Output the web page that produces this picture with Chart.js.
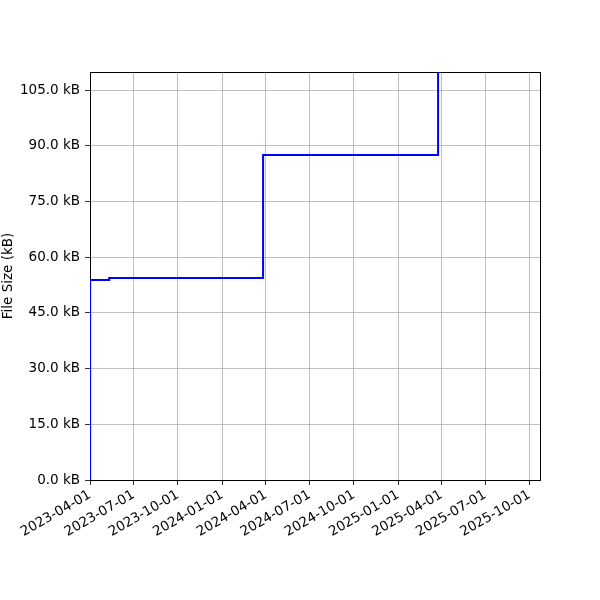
<!DOCTYPE html>
<html>
<head>
<meta charset="utf-8">
<script src="https://cdn.jsdelivr.net/npm/chart.js@4.4.1/dist/chart.umd.min.js"></script>
<style>
  body { margin: 0; background: #fff; }
  #wrap { width: 600px; height: 600px; }
</style>
</head>
<body>
<div id="wrap"><canvas id="size-chart" width="600" height="600"></canvas></div>
<script>
// file size history (step changes), values in kB
const commitDates = ['2023-04-01T00:00', '2023-04-01T06:00', '2023-05-11', '2024-03-26', '2025-03-25', '2025-10-23'];
const fileSizes   = [0, 53.85, 54.4, 87.5, 130, 130];

const tickDates = [
    '2023-04-01', '2023-07-01', '2023-10-01', '2024-01-01', '2024-04-01', '2024-07-01',
    '2024-10-01', '2025-01-01', '2025-04-01', '2025-07-01', '2025-10-01'
];
const sizeTicks = [0, 15, 30, 45, 60, 75, 90, 105];

const toMs = d => Date.parse(d.length > 10 ? d + 'Z' : d + 'T00:00Z');

const points = commitDates.map((d, i) => ({ x: toMs(d), y: fileSizes[i] }));

const font = { family: 'DejaVu Sans', size: 13.5 };

// matplotlib-like box around the axes, under the line
const boxPlugin = {
    id: 'box',
    beforeDatasetsDraw(chart) {
        const a = chart.chartArea;
        const ctx = chart.ctx;
        ctx.save();
        ctx.strokeStyle = '#000';
        ctx.lineWidth = 1;
        ctx.strokeRect(Math.round(a.left) + 0.5, Math.round(a.top) + 0.5,
                       Math.round(a.right - a.left), Math.round(a.bottom - a.top));
        ctx.restore();
    }
};

new Chart(document.getElementById('size-chart'), {
    type: 'line',
    data: {
        datasets: [{
            data: points,
            borderColor: '#0000ff',
            borderWidth: 2,
            pointRadius: 0,
            stepped: 'before',
            fill: false
        }]
    },
    options: {
        responsive: false,
        animation: false,
        layout: { padding: { top: 72, right: 60, left: 0, bottom: 0 } },
        plugins: { legend: { display: false }, tooltip: { enabled: false } },
        scales: {
            x: {
                type: 'linear',
                min: toMs('2023-04-01'),
                max: toMs('2025-10-23'),
                afterBuildTicks: scale => {
                    scale.ticks = tickDates.map(d => ({ value: toMs(d) }));
                },
                afterFit: scale => { scale.height = 120; },
                ticks: {
                    autoSkip: false,
                    minRotation: 30,
                    maxRotation: 30,
                    padding: 2,
                    color: '#000',
                    font: font,
                    callback: v => new Date(v).toISOString().slice(0, 10)
                },
                grid: { color: '#b0b0b0', lineWidth: 0.8, tickColor: '#000', tickLength: 5 },
                border: { color: '#000', width: 1 }
            },
            y: {
                min: 0,
                max: 109.85,
                afterBuildTicks: scale => {
                    scale.ticks = sizeTicks.map(v => ({ value: v }));
                },
                afterFit: scale => { scale.width = 90; },
                ticks: {
                    padding: 5,
                    color: '#000',
                    font: font,
                    callback: v => v.toFixed(1) + ' kB'
                },
                grid: { color: '#b0b0b0', lineWidth: 0.8, tickColor: '#000', tickLength: 5 },
                border: { color: '#000', width: 1 },
                title: {
                    display: true,
                    text: 'File Size (kB)',
                    color: '#000',
                    font: font,
                    padding: { top: 0, bottom: 0 }
                }
            }
        }
    },
    plugins: [boxPlugin]
});
</script>
</body>
</html>
